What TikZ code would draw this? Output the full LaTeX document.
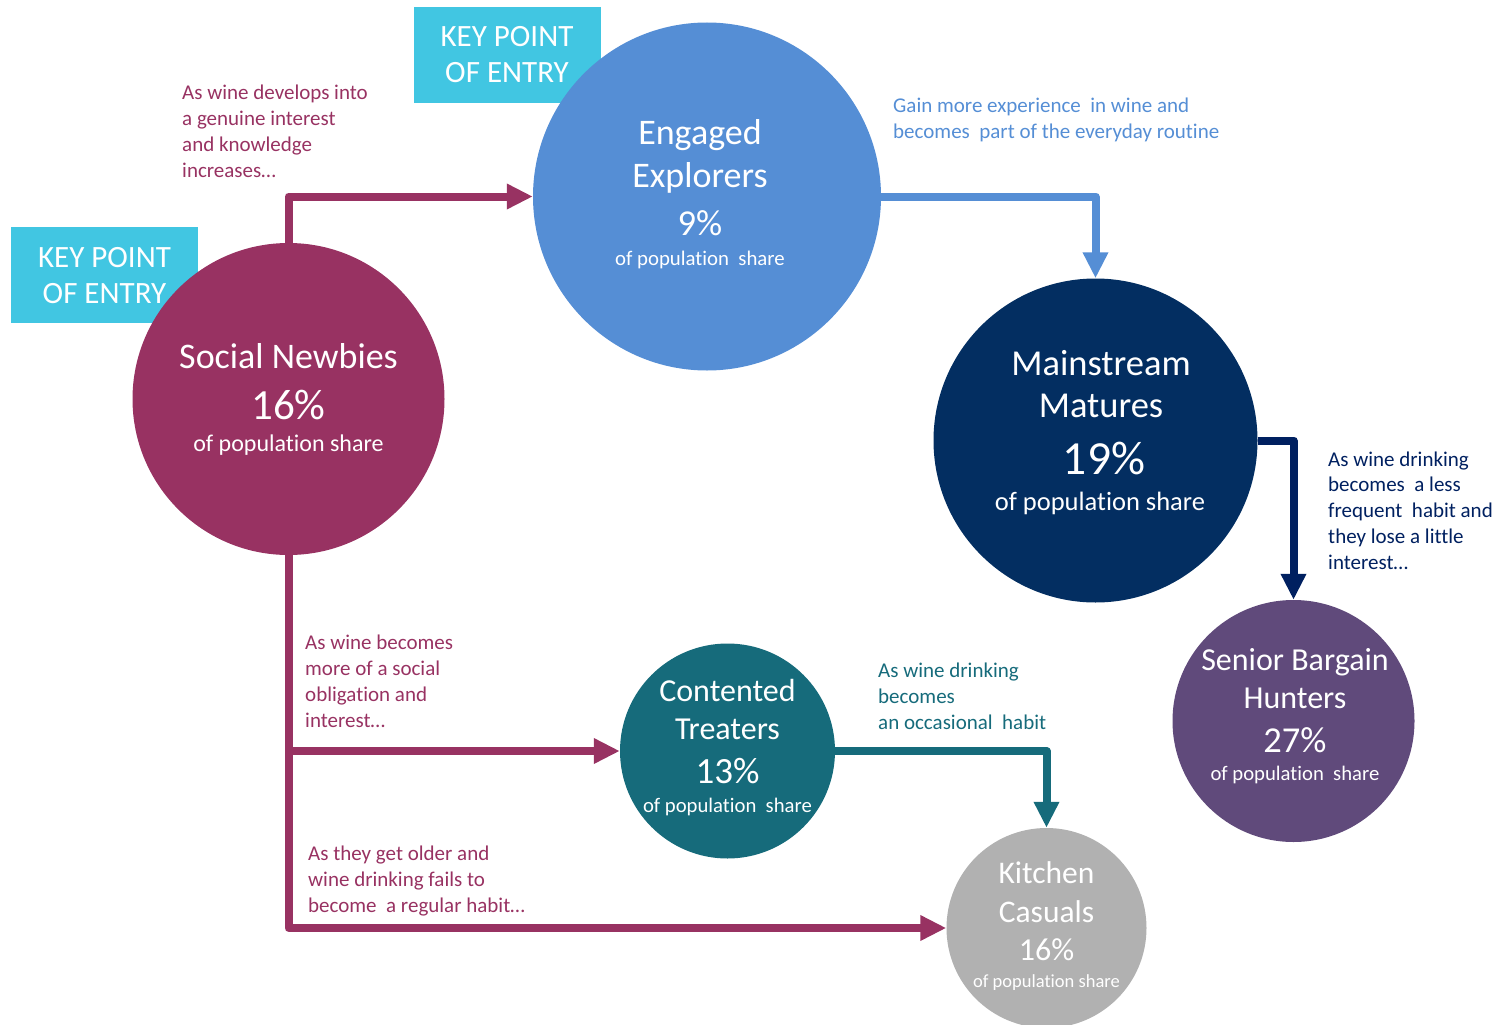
\documentclass[tikz,border=0pt]{standalone}
\usepackage{fontspec}
\setmainfont{Carlito}[Ligatures=NoCommon]
\usetikzlibrary{arrows.meta}

\definecolor{berry}{HTML}{983262}
\definecolor{skyblue}{HTML}{558ED5}
\definecolor{navy}{HTML}{032E61}
\definecolor{navyline}{HTML}{002060}
\definecolor{tealc}{HTML}{166B7B}
\definecolor{plum}{HTML}{604A7B}
\definecolor{ash}{HTML}{B1B1B1}
\definecolor{keycyan}{HTML}{41C6E2}

\newcommand{\fs}[1]{\fontsize{#1}{#1}\selectfont}

\begin{document}
\begin{tikzpicture}[x=1pt,y=-1pt,
  disc/.style={circle, inner sep=0pt, minimum size=#1},
  flow/.style={line width=8pt, line join=round, -{Triangle[length=26pt,width=24pt]}},
  note/.style={anchor=base west, align=left, inner sep=0pt, font=\fontsize{21}{25.7}\selectfont},
  ctext/.style={anchor=base, inner sep=0pt, text=white},
  keybox/.style={fill=keycyan, minimum width=187pt, minimum height=96pt, inner sep=0pt},
]
\useasboundingbox (0,0) rectangle (1494,1025);
\clip (0,0) rectangle (1494,1025);

% entry-point tags
\node[keybox] (kp1) at (104.5,275) {};
\node[keybox] (kp2) at (507,55) {};

% segments
\node[disc=312pt, fill=berry]   (sn) at (288.5,399) {};
\node[disc=348pt, fill=skyblue] (ee) at (707,196.5) {};
\node[disc=324pt, fill=navy]    (mm) at (1095.5,440.5) {};
\node[disc=215pt, fill=tealc]   (ct) at (727.5,751) {};
\node[disc=242pt, fill=plum]    (sb) at (1293.5,721) {};
\node[disc=200pt, fill=ash]     (kc) at (1046.5,928) {};

% tag texts
\node[ctext, font=\fs{31}] (kp1a) at (104.5,267) {KEY POINT};
\node[ctext, font=\fs{31}] (kp1b) at (104.5,303) {OF ENTRY};
\node[ctext, font=\fs{31}] (kp2a) at (507,47) {KEY POINT};
\node[ctext, font=\fs{31}] (kp2b) at (507,83) {OF ENTRY};

% transitions
\draw[flow, berry] (sn.north) |- (ee.west);
\draw[flow, skyblue] (ee.east) -| (mm.north);
\draw[flow, navyline] (mm.east) -| (sb.north);
\draw[flow, berry] (sn.south) |- (kc.west);
\coordinate (fork) at (sn.south |- ct.west);
\draw[flow, berry] (fork) -- (ct.west);
\draw[flow, tealc] (ct.east) -| (kc.north);

% segment texts
\node[ctext, font=\fs{36}] (sn1) at (288.5,368) {Social Newbies};
\node[ctext, font=\fs{43}] (sn2) at (288.5,419) {16\%};
\node[ctext, font=\fs{24}] (sn3) at (288.5,451) {of population share};

\node[ctext, font=\fs{36}] (ee1) at (700,144) {Engaged};
\node[ctext, font=\fs{36}] (ee2) at (700,187) {Explorers};
\node[ctext, font=\fs{36.5}] (ee3) at (700,235) {9\%};
\node[ctext, font=\fs{20.8}] (ee4) at (700,265) {of population\ \ share};

\node[ctext, font=\fs{36.5}] (mm1) at (1101,375) {Mainstream};
\node[ctext, font=\fs{36.5}] (mm2) at (1101,417) {Matures};
\node[ctext, font=\fs{47.5}] (mm3) at (1104,474) {19\%};
\node[ctext, font=\fs{26.5}] (mm4) at (1100,510) {of population share};

\node[ctext, font=\fs{32}] (ct1) at (727.5,701) {Contented};
\node[ctext, font=\fs{32}] (ct2) at (727.5,739) {Treaters};
\node[ctext, font=\fs{37}] (ct3) at (727.5,783) {13\%};
\node[ctext, font=\fs{20.7}] (ct4) at (727.5,812) {of population\ \ share};

\node[ctext, font=\fs{32}] (sb1) at (1295,670) {Senior Bargain};
\node[ctext, font=\fs{32}] (sb2) at (1295,708) {Hunters};
\node[ctext, font=\fs{36.5}] (sb3) at (1295,752) {27\%};
\node[ctext, font=\fs{20.7}] (sb4) at (1295,780) {of population\ \ share};

\node[ctext, font=\fs{31.5}] (kc1) at (1046.5,883) {Kitchen};
\node[ctext, font=\fs{31.5}] (kc2) at (1046.5,922) {Casuals};
\node[ctext, font=\fs{32}] (kc3) at (1046.5,960) {16\%};
\node[ctext, font=\fs{18.5}] (kc4) at (1046.5,987) {of population share};

% transition notes (anchored on the baseline of their last line)
\node[note, text=berry] (n1) at (182,177)
  {As wine develops into\\a genuine interest\\and knowledge\\increases…};
\node[note, text=skyblue] (n2) at (893,138)
  {Gain more experience\ \ in wine and\\becomes\ \ part of the everyday routine};
\node[note, text=navyline] (n3) at (1328,569)
  {As wine drinking\\becomes\ \ a less\\frequent\ \ habit and\\they lose a little\\interest…};
\node[note, text=berry] (n4) at (305,727)
  {As wine becomes\\more of a social\\obligation and\\interest…};
\node[note, text=tealc] (n5) at (878,729)
  {As wine drinking\\becomes\\an occasional\ \ habit};
\node[note, text=berry] (n6) at (308,912)
  {As they get older and\\wine drinking fails to\\become\ \ a regular habit…};
\end{tikzpicture}
\end{document}
